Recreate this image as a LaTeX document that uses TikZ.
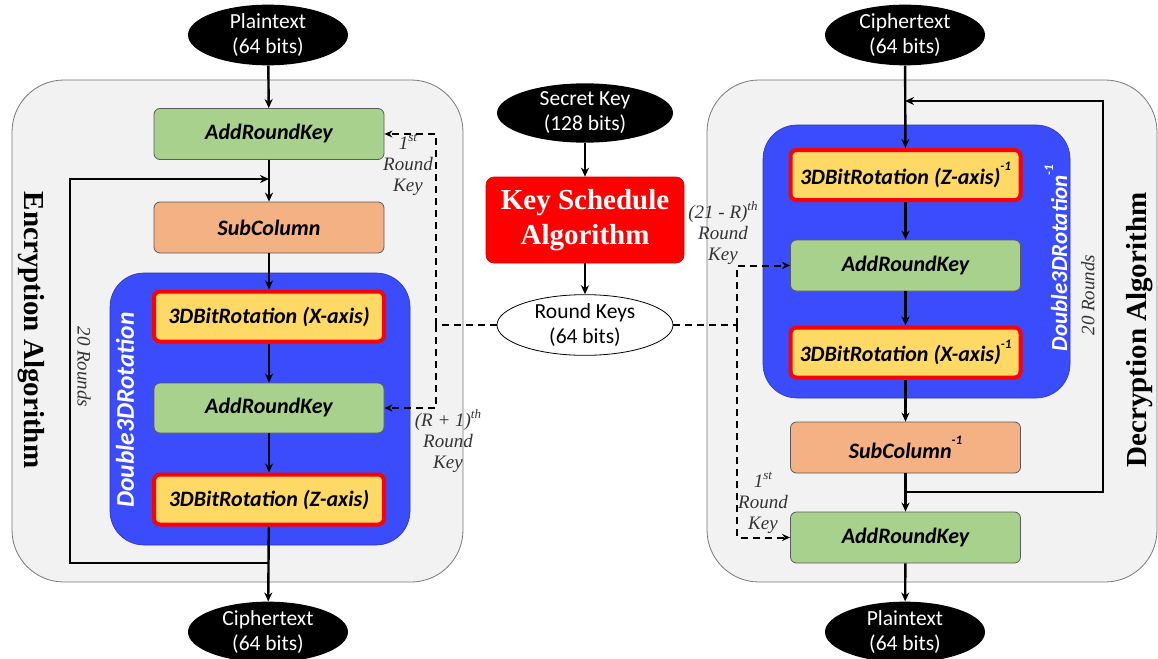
\documentclass[tikz,border=0pt]{standalone}
\usepackage{fontspec}
\newfontfamily\boxfont{Carlito}
\newfontfamily\titlefont{Liberation Serif}
\usetikzlibrary{arrows.meta,shapes.geometric}

\definecolor{panelfill}{RGB}{242,242,242}
\definecolor{panelline}{RGB}{120,120,120}
\definecolor{roundblue}{RGB}{59,76,252}
\definecolor{keygreen}{RGB}{169,209,142}
\definecolor{suborange}{RGB}{244,177,131}
\definecolor{rotyellow}{RGB}{255,217,102}
\definecolor{boxline}{RGB}{90,90,90}

\tikzset{
  panel/.style={draw=panelline, fill=panelfill, line width=0.8pt, rounded corners=52pt},
  roundblock/.style={fill=roundblue, draw=roundblue!70!black, line width=0.6pt, rounded corners=34pt},
  stepbox/.style={rectangle, rounded corners=6pt, minimum width=230pt, minimum height=51pt,
    draw=boxline, line width=0.8pt, inner sep=0pt,
    font=\boxfont\bfseries\itshape\fontsize{22}{24}\selectfont},
  keybox/.style={stepbox, fill=keygreen},
  subbox/.style={stepbox, fill=suborange},
  rotbox/.style={stepbox, fill=rotyellow, draw=red, line width=4pt, minimum width=230pt, minimum height=50pt},
  terminal/.style={ellipse, fill=black, text=white, minimum width=160pt, minimum height=48pt,
    inner sep=0pt, align=center, font=\boxfont\fontsize{21.5}{25}\selectfont},
  keyell/.style={ellipse, minimum width=176pt, minimum height=50pt, inner sep=0pt, align=center,
    font=\boxfont\fontsize{21.5}{25}\selectfont},
  schedule/.style={rectangle, rounded corners=8pt, fill=red, draw=red!80!black, line width=0.6pt,
    text=white, minimum width=198pt, minimum height=86pt, align=center,
    font=\titlefont\bfseries\fontsize{29}{35}\selectfont},
  flow/.style={line width=2.4pt, -{Stealth[length=9pt,width=8pt]}},
  flowline/.style={line width=2.4pt},
  keyline/.style={line width=2pt, dash pattern=on 7pt off 5pt},
  keyarrow/.style={keyline, -{Stealth[length=8pt,width=7pt]}},
  keylabel/.style={align=center, inner sep=0pt, font=\titlefont\itshape\fontsize{19}{21}\selectfont, text=black!80},
  sidetitle/.style={inner sep=0pt, font=\titlefont\bfseries\fontsize{29}{32}\selectfont},
  blocktitle/.style={inner sep=0pt, text=white, font=\boxfont\bfseries\itshape\fontsize{25.5}{28}\selectfont},
  roundsnote/.style={inner sep=0pt, font=\titlefont\itshape\fontsize{19}{21}\selectfont, text=black!80}
}

\newcommand{\inv}{\raisebox{1.25ex}{\fontsize{13}{13}\selectfont -1}}
\newcommand{\sups}[1]{\raisebox{0.85ex}{\fontsize{13}{13}\selectfont #1}}

\begin{document}
\begin{tikzpicture}[x=1pt, y=-1pt]
\useasboundingbox (0,0) rectangle (1158,658);

% ---------------- encryption side ----------------
\draw[panel] (12,80) rectangle (463,582);
\draw[roundblock] (110,273) rectangle (410,545);

\node[terminal] (ptin) at (268,35) {Plaintext\\(64 bits)};
\node[keybox] (ark1) at (269,134) {AddRoundKey};
\node[subbox] (sub) at (269,227.5) {SubColumn};
\node[rotbox] (rotx) at (269,316.5) {3DBitRotation (X-axis)};
\node[keybox, minimum height=50pt] (ark2) at (269,408) {AddRoundKey};
\node[rotbox] (rotz) at (269,499.5) {3DBitRotation (Z-axis)};
\node[terminal] (ctout) at (268,632) {Ciphertext\\(64 bits)};

\node[sidetitle, rotate=-90] (enctitle) at (31,330) {Encryption Algorithm};
\node[blocktitle, rotate=90] (dbl) at (125,410) {Double3DRotation};
\node[roundsnote, rotate=-90] (encrounds) at (84,367) {20 Rounds};

\draw[flow] (ptin) -- (ark1);
\draw[flow] (ark1) -- (sub);
\draw[flow] (sub) -- (rotx);
\draw[flow] (rotx) -- (ark2);
\draw[flow] (ark2) -- (rotz);
\draw[flow] (rotz) -- (ctout);

% 20-round loop back to the top of SubColumn
\coordinate (encloopout) at (269,563);
\coordinate (encloopin) at (269,179);
\draw[flowline] (encloopout) -- (70,563) -- (70,179) -- (262,179);
\draw[flow] (250,179) -- (encloopin);

% ---------------- key schedule ----------------
\node[keyell, fill=black, text=white] (secret) at (585,113) {Secret Key\\(128 bits)};
\node[schedule] (ks) at (585,220) {Key Schedule\\Algorithm};
\node[keyell, fill=white, draw=black, line width=0.8pt] (rk) at (585,325) {Round Keys\\(64 bits)};

\draw[flow] (secret) -- (ks);
\draw[flow] (ks) -- (rk);

% round keys to encryption
\coordinate (encbus) at (436,325);
\draw[keyline] (rk.west) -- (encbus);
\draw[keyarrow] (encbus) |- (ark1.east);
\draw[keyarrow] (encbus) |- (ark2.east);
\node[keylabel] (lab1) at (408,165) {1\sups{st}\\Round\\Key};
\node[keylabel] (lab2) at (448,441) {(\textit{R} + 1)\sups{th}\\Round\\Key};

% ---------------- decryption side ----------------
\draw[panel] (707,80) rectangle (1157,582);
\draw[roundblock] (763,125) rectangle (1070,398);

\node[terminal] (ctin) at (905,35) {Ciphertext\\(64 bits)};
\node[rotbox] (rotzi) at (905.5,175) {3DBitRotation (Z-axis)\inv};
\node[keybox] (ark3) at (905.5,265.5) {AddRoundKey};
\node[rotbox] (rotxi) at (905.5,352.5) {3DBitRotation (X-axis)\inv};
\node[subbox] (subi) at (905.5,447.5) {SubColumn\inv};
\node[keybox] (ark4) at (905.5,537.5) {AddRoundKey};
\node[terminal] (ptout) at (905,632) {Plaintext\\(64 bits)};

\node[sidetitle, rotate=90] (dectitle) at (1140,330) {Decryption Algorithm};
\node[blocktitle, rotate=90, font=\boxfont\bfseries\itshape\fontsize{23}{26}\selectfont] (dbli) at (1056,258) {Double3DRotation\inv};
\node[roundsnote, rotate=90] (decrounds) at (1088,295) {20 Rounds};

\draw[flow] (ctin) -- (rotzi);
\draw[flow] (rotzi) -- (ark3);
\draw[flow] (ark3) -- (rotxi);
\draw[flow] (rotxi) -- (subi);
\draw[flow] (subi) -- (ark4);
\draw[flow] (ark4) -- (ptout);

% 20-round loop back to the top of the inverse rotation block
\coordinate (decloopout) at (905,492);
\coordinate (decloopin) at (905,101);
\draw[flowline] (decloopout) -- (1103,492) -- (1103,101) -- (912,101);
\draw[flow] (925,101) -- (decloopin);

% round keys to decryption
\coordinate (decbus) at (737,325);
\draw[keyline] (rk.east) -- (decbus);
\draw[keyarrow] (decbus) |- (ark3.west);
\draw[keyarrow] (decbus) |- (ark4.west);
\node[keylabel] (lab3) at (723,233) {(21 - \textit{R})\sups{th}\\Round\\Key};
\node[keylabel] (lab4) at (763,503) {1\sups{st}\\Round\\Key};
\end{tikzpicture}
\end{document}
